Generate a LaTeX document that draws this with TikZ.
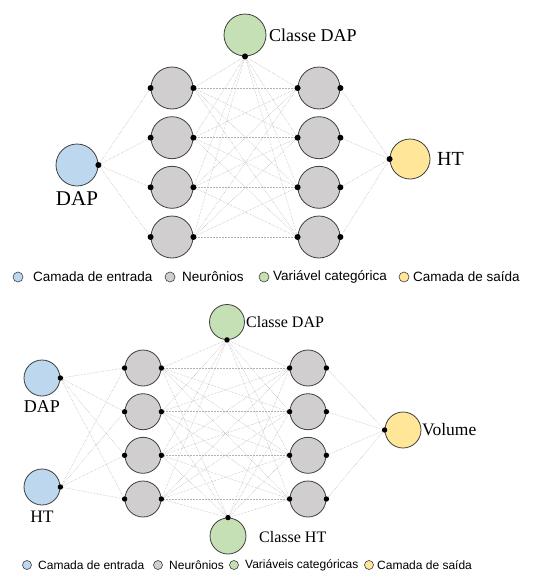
\documentclass[tikz,border=0pt]{standalone}
\usepackage{fontspec}
\setmainfont{Liberation Serif}
\setsansfont{Liberation Sans}
\definecolor{inblue}{HTML}{BDD7EE}
\definecolor{hidgray}{HTML}{D0CECE}
\definecolor{catgreen}{HTML}{C5E0B4}
\definecolor{outyellow}{HTML}{FFE699}
\definecolor{rimgray}{HTML}{3F3F3F}

\begin{document}
\begin{tikzpicture}[x=1pt,y=-1pt,
  unit/.style={circle,draw=rimgray,line width=0.8pt,inner sep=0pt,minimum size=#1},
  link/.style={densely dotted,gray!60,line width=0.5pt},
  keyunit/.style={circle,draw=rimgray,line width=0.6pt,inner sep=0pt,minimum size=#1},
  keytext/.style={anchor=west,inner sep=0pt,font=\sffamily\fontsize{#1}{#1}\selectfont}]
  \useasboundingbox (0,0) rectangle (554,573);

  % ---------- first network: DAP -> HT ----------
  % Draw the input, category and output units
  \node[unit=42pt,fill=inblue] (inA) at (77,165) {};
  \node[unit=42pt,fill=catgreen] (cls) at (245,35) {};
  \node[unit=40pt,fill=outyellow] (out) at (410,159) {};

  % Draw the two hidden layers
  \foreach \i/\y in {1/88,2/137.7,3/187.3,4/237}{
    \node[unit=42pt,fill=hidgray] (hA\i) at (172,\y) {};
    \node[unit=42pt,fill=hidgray] (hB\i) at (319,\y) {};
  }

  % Label the units
  \node[anchor=west,inner sep=0pt,font=\fontsize{18}{18}\selectfont] (clsLab) at (269,35) {Classe DAP};
  \node[inner sep=0pt,font=\fontsize{21}{21}\selectfont] (inALab) at (77,199) {DAP};
  \node[anchor=west,inner sep=0pt,font=\fontsize{20}{20}\selectfont] (outLab) at (437,159) {HT};

  % Draw the connections
  \foreach \i in {1,...,4}{
    \draw[link] (inA.east) -- (hA\i.west);
    \draw[link] (cls.south) -- (hA\i.east);
    \draw[link] (cls.south) -- (hB\i.west);
    \draw[link] (hB\i.east) -- (out.west);
    \foreach \j in {1,...,4}
      \draw[link] (hA\i.east) -- (hB\j.west);
  }

  % Black dots where the lines meet the units
  \fill (inA.east) circle[radius=3pt];
  \fill (cls.south) circle[radius=3pt];
  \fill (out.west) circle[radius=3pt];
  \foreach \i in {1,...,4}{
    \fill (hA\i.west) circle[radius=3pt];
    \fill (hA\i.east) circle[radius=3pt];
    \fill (hB\i.west) circle[radius=3pt];
    \fill (hB\i.east) circle[radius=3pt];
  }

  % Legend
  \node[keyunit=10pt,fill=inblue] (k1) at (18,277) {};
  \node[keytext=13.5] (t1) at (33,277) {Camada de entrada};
  \node[keyunit=10pt,fill=hidgray] (k2) at (170,277) {};
  \node[keytext=13.5] (t2) at (182,277) {Neurônios};
  \node[keyunit=10pt,fill=catgreen] (k3) at (264,277) {};
  \node[keytext=13.5] (t3) at (273,277) {Variável categórica};
  \node[keyunit=10pt,fill=outyellow] (k4) at (404,277) {};
  \node[keytext=13.5] (t4) at (413,277) {Camada de saída};

  % ---------- second network: DAP, HT -> Volume ----------
  % Draw the input, category and output units
  \node[unit=36pt,fill=inblue] (in1) at (42,378) {};
  \node[unit=36pt,fill=inblue] (in2) at (42,487) {};
  \node[unit=35pt,fill=catgreen] (clsD) at (227,322) {};
  \node[unit=36pt,fill=catgreen] (clsH) at (228,536) {};
  \node[unit=36pt,fill=outyellow] (vol) at (403,430) {};

  % Draw the two hidden layers
  \foreach \i/\y in {1/368,2/411.7,3/455.3,4/499}{
    \node[unit=36pt,fill=hidgray] (hC\i) at (143,\y) {};
    \node[unit=36pt,fill=hidgray] (hD\i) at (308,\y) {};
  }

  % Label the units
  \node[anchor=west,inner sep=0pt,font=\fontsize{16}{16}\selectfont] (clsDLab) at (246,322) {Classe DAP};
  \node[anchor=west,inner sep=0pt,font=\fontsize{16}{16}\selectfont] (clsHLab) at (259,537) {Classe HT};
  \node[inner sep=0pt,font=\fontsize{18}{18}\selectfont] (in1Lab) at (42,407) {DAP};
  \node[inner sep=0pt,font=\fontsize{17.5}{17.5}\selectfont] (in2Lab) at (42,517) {HT};
  \node[anchor=west,inner sep=0pt,font=\fontsize{17.5}{17.5}\selectfont] (volLab) at (422,430) {Volume};

  % Draw the connections
  \foreach \i in {1,...,4}{
    \draw[link] (in1.east) -- (hC\i.west);
    \draw[link] (in2.east) -- (hC\i.west);
    \draw[link] (clsD.south) -- (hC\i.east);
    \draw[link] (clsD.south) -- (hD\i.west);
    \draw[link] (clsH.north) -- (hC\i.east);
    \draw[link] (clsH.north) -- (hD\i.west);
    \draw[link] (hD\i.east) -- (vol.west);
    \foreach \j in {1,...,4}
      \draw[link] (hC\i.east) -- (hD\j.west);
  }

  % Black dots where the lines meet the units
  \fill (in1.east) circle[radius=2.7pt];
  \fill (in2.east) circle[radius=2.7pt];
  \fill (clsD.south) circle[radius=2.7pt];
  \fill (clsH.north) circle[radius=2.7pt];
  \fill (vol.west) circle[radius=2.7pt];
  \foreach \i in {1,...,4}{
    \fill (hC\i.west) circle[radius=2.7pt];
    \fill (hC\i.east) circle[radius=2.7pt];
    \fill (hD\i.west) circle[radius=2.7pt];
    \fill (hD\i.east) circle[radius=2.7pt];
  }

  % Legend
  \node[keyunit=9pt,fill=inblue] (k5) at (27,565) {};
  \node[keytext=12] (t5) at (38,565) {Camada de entrada};
  \node[keyunit=9pt,fill=hidgray] (k6) at (158,565) {};
  \node[keytext=12] (t6) at (169,565) {Neurônios};
  \node[keyunit=9pt,fill=catgreen] (k7) at (234,565) {};
  \node[keytext=12] (t7) at (245,565) {Variáveis categóricas};
  \node[keyunit=9pt,fill=outyellow] (k8) at (369,565) {};
  \node[keytext=12] (t8) at (377,565) {Camada de saída};
\end{tikzpicture}
\end{document}
